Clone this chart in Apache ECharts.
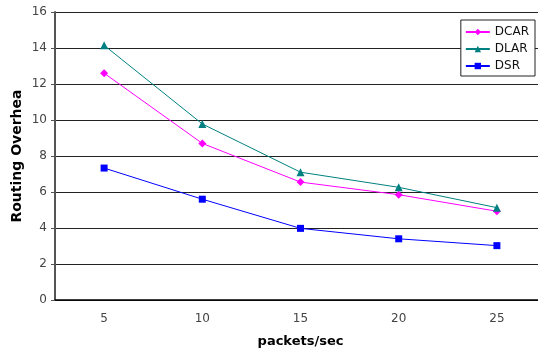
<!DOCTYPE html>
<html><head><meta charset="utf-8">
<script src="https://cdn.jsdelivr.net/npm/echarts@6/dist/echarts.min.js"></script>
<style>html,body{margin:0;padding:0;background:#fff}#c{width:538px;height:349px}</style>
</head><body><div id="c"></div>
<script>
const categories = ['5','10','15','20','25'];
const dcar = [12.6, 8.7, 6.55, 5.85, 4.93];
const dlar = [14.15, 9.78, 7.1, 6.26, 5.13];
const dsr = [7.33, 5.6, 3.98, 3.4, 3.02];
const chart = echarts.init(document.getElementById('c'));
const font = 'DejaVu Sans, sans-serif';
function ser(name, data, color, symbol, size){
  return {name, type:'line', data, symbol, symbolSize:size, color,
    lineStyle:{color, width:1}, itemStyle:{color}, animation:false};
}
chart.setOption({
  animation:false,
  grid:{left:55, top:12, width:491, height:288, containLabel:false, outerBoundsMode:'none'},
  legend:{
    right:3, top:20, orient:'vertical', itemWidth:24, itemHeight:8, itemGap:5,
    backgroundColor:'#fff', borderColor:'#222', borderWidth:1, padding:[6,6,4,4],
    textStyle:{fontFamily:font, fontSize:12, color:'#111'},
    data:['DCAR','DLAR','DSR']
  },
  xAxis:{
    type:'category', data:categories, boundaryGap:true,
    name:'packets/sec', nameLocation:'middle', nameGap:35, nameMoveOverlap:false,
    nameTextStyle:{fontFamily:font, fontWeight:'bold', fontSize:13, color:'#000'},
    axisLine:{lineStyle:{color:'#000', width:1.5}},
    axisTick:{inside:true, length:4, lineStyle:{color:'#000'}},
    axisLabel:{fontFamily:font, fontSize:12, color:'#444', margin:13}
  },
  yAxis:{
    type:'value', min:0, max:16, interval:2,
    name:'Routing Overhea', nameLocation:'middle', nameGap:31, nameRotate:90, nameMoveOverlap:false,
    nameTextStyle:{fontFamily:font, fontWeight:'bold', fontSize:14, color:'#000'},
    axisLine:{show:true, lineStyle:{color:'#555', width:2}},
    axisTick:{show:true, length:4, lineStyle:{color:'#555'}},
    axisLabel:{fontFamily:font, fontSize:12, color:'#444', margin:8},
    splitLine:{lineStyle:{color:'#222', width:1}}
  },
  series:[
    ser('DCAR', dcar, '#FF00FF', 'diamond', 8),
    ser('DLAR', dlar, '#008080', 'triangle', 8),
    ser('DSR', dsr, '#0000FF', 'rect', 7)
  ]
});
</script></body></html>
